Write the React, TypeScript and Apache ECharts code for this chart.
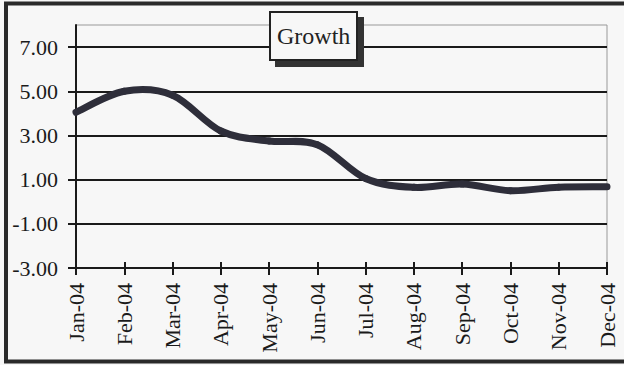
import React, { useEffect, useRef } from "react";
import * as echarts from "echarts";

const months = ["Jan-04", "Feb-04", "Mar-04", "Apr-04", "May-04", "Jun-04", "Jul-04", "Aug-04", "Sep-04", "Oct-04", "Nov-04", "Dec-04"];
const growth = [4.05, 5.0, 4.82, 3.2, 2.75, 2.58, 1.05, 0.65, 0.8, 0.5, 0.66, 0.68];
const yMin = -3;
const yMax = 8;
const yStep = 2;
const titleText = "Growth";

const FONT = "'Liberation Serif', 'Times New Roman', serif";

export default function App() {
  const ref = useRef<HTMLDivElement>(null);
  useEffect(() => {
    document.body.style.margin = "0";
    const chart = echarts.init(ref.current!, null, { renderer: "svg" });
    const n = growth.length;
    chart.setOption({
      animation: false,
      backgroundColor: "#f7f7f7",
      textStyle: { fontFamily: FONT },
      title: {
        text: titleText,
        left: 270,
        top: 12,
        padding: [12, 7, 12, 7],
        backgroundColor: "#f7f7f7",
        borderColor: "#222",
        borderWidth: 2,
        textStyle: { fontFamily: FONT, fontSize: 24, fontWeight: "normal", color: "#222" },
        z: 10,
      },
      graphic: [
        {
          type: "rect",
          z: 9,
          shape: { x: 275, y: 17, width: 89, height: 50 },
          style: { fill: "#333" },
        },
        {
          type: "rect",
          z: 20,
          shape: { x: 6, y: 3.5, width: 640, height: 358 },
          style: { fill: "none", stroke: "#2a2a2a", lineWidth: 4 },
        },
      ],
      grid: {
        left: 76,
        right: 17,
        top: 25,
        bottom: 97,
        show: true,
        borderColor: "#999",
        borderWidth: 1,
        backgroundColor: "transparent",
      },
      xAxis: [
        {
          type: "category",
          data: months,
          boundaryGap: false,
          axisLine: { onZero: false, lineStyle: { color: "#1a1a1a", width: 2 } },
          axisTick: { show: true, length: 7, lineStyle: { color: "#1a1a1a", width: 2 }, interval: 0 },
          axisLabel: { interval: 0, rotate: 90, fontSize: 22, color: "#1a1a1a", margin: 15, fontFamily: FONT },
          splitLine: { show: false },
        },
        {
          type: "category",
          data: months,
          boundaryGap: false,
          position: "bottom",
          axisLine: { show: false, onZero: false },
          axisTick: { show: true, inside: true, length: 6, lineStyle: { color: "#1a1a1a", width: 2 }, interval: 0 },
          axisLabel: { show: false },
          splitLine: { show: false },
        },
      ],
      yAxis: {
        type: "value",
        min: yMin,
        max: yMax,
        interval: yStep,
        axisLine: { show: true, lineStyle: { color: "#1a1a1a", width: 2 } },
        axisTick: { show: true, length: 8, lineStyle: { color: "#1a1a1a", width: 2 } },
        axisLabel: {
          fontSize: 22,
          color: "#1a1a1a",
          margin: 18,
          fontFamily: FONT,
          showMaxLabel: false,
          formatter: (v: number) => v.toFixed(2),
        },
        splitLine: { show: true, showMaxLine: false, lineStyle: { color: "#1a1a1a", width: 2 } },
      },
      series: [
        {
          type: "custom",
          name: titleText,
          xAxisIndex: 0,
          data: growth.map((v, i) => [i, v]),
          encode: { x: 0, y: 1 },
          z: 3,
          renderItem: (params: any, api: any) => {
            const i = params.dataIndex;
            if (i >= n - 1) return null;
            const pt = (k: number) => api.coord([k, growth[k]]);
            const p0 = pt(Math.max(i - 1, 0));
            const p1 = pt(i);
            const p2 = pt(i + 1);
            const p3 = pt(Math.min(i + 2, n - 1));
            return {
              type: "bezierCurve",
              shape: {
                x1: p1[0],
                y1: p1[1],
                x2: p2[0],
                y2: p2[1],
                cpx1: p1[0] + (p2[0] - p0[0]) / 6,
                cpy1: p1[1] + (p2[1] - p0[1]) / 6,
                cpx2: p2[0] - (p3[0] - p1[0]) / 6,
                cpy2: p2[1] - (p3[1] - p1[1]) / 6,
              },
              style: { fill: "none", stroke: "#2e2e3a", lineWidth: 7, lineCap: "round" },
            };
          },
        },
      ],
    });
    return () => chart.dispose();
  }, []);
  return <div ref={ref} style={{ width: 624, height: 365 }} />;
}
